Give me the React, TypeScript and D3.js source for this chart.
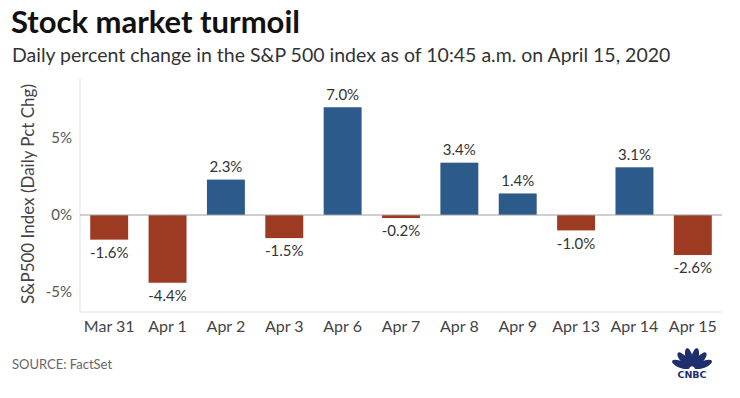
import React from "react";
import * as d3 from "d3";

const categories = ["Mar 31", "Apr 1", "Apr 2", "Apr 3", "Apr 6", "Apr 7", "Apr 8", "Apr 9", "Apr 13", "Apr 14", "Apr 15"];
const values = [-1.6, -4.4, 2.3, -1.5, 7.0, -0.2, 3.4, 1.4, -1.0, 3.1, -2.6];
const yTicks = [-5, 0, 5];

const W = 740, H = 398;
const left = 80, right = 722, top = 78, bottom = 312;
const FONT = "Lato, 'Open Sans', sans-serif";

export default function App() {
  const x = d3.scaleBand<string>().domain(categories).range([left, right]).paddingInner(0.35).paddingOuter(0.175);
  const y = d3.scaleLinear().domain([-6.3, 8.9]).range([bottom, top]);
  const blue = "#2c5a8a";
  const red = "#9c3b22";
  const feathers = [-68, -41, -14, 14, 41, 68];
  return (
    <div style={{ position: "absolute", left: 0, top: 0, width: W, height: H, background: "#fff" }}>
      <svg width={W} height={H} style={{ display: "block", fontFamily: FONT }}>
        <rect width={W} height={H} fill="#fff" />
        <text x={11} y={33} fontSize={31} fontWeight={700} fill="#111">Stock market turmoil</text>
        <text x={12} y={62} fontSize={19.5} fill="#333">Daily percent change in the S&amp;P 500 index as of 10:45 a.m. on April 15, 2020</text>

        {/* axes */}
        <line x1={left} x2={left} y1={top} y2={bottom} stroke="#e3e3e3" />
        <line x1={left} x2={right} y1={bottom} y2={bottom} stroke="#e3e3e3" />
        {yTicks.map(t => (
          <text key={t} x={72} y={y(t)} dy="0.35em" textAnchor="end" fontSize={15} fill="#555">{t}%</text>
        ))}
        <text transform={`translate(28,${(top + bottom) / 2 - 1}) rotate(-90)`} dy="0.35em" textAnchor="middle" fontSize={17} fill="#444">S&amp;P500 Index (Daily Pct Chg)</text>

        {values.map((v, i) => {
          const c = categories[i];
          const bx = x(c)!;
          const y0 = y(0), y1 = y(v);
          return (
            <g key={c}>
              <rect x={bx} width={x.bandwidth()} y={Math.min(y0, y1)} height={Math.abs(y1 - y0)} fill={v >= 0 ? blue : red} />
              <text x={bx + x.bandwidth() / 2} y={v >= 0 ? y1 - 13 : y1 + 13} dy="0.35em" textAnchor="middle" fontSize={15} fill="#333">
                {v.toFixed(1)}%
              </text>
              <text x={bx + x.bandwidth() / 2} y={326} dy="0.35em" textAnchor="middle" fontSize={16} fill="#444">{c}</text>
            </g>
          );
        })}
        <line x1={left} x2={right} y1={y(0)} y2={y(0)} stroke="#a0a0a0" strokeWidth={1.2} />

        <text x={12} y={369} fontSize={13} fill="#666">SOURCE: FactSet</text>

        {/* CNBC logo */}
        <g transform="translate(692,369)">
          {feathers.map(a => (
            <ellipse key={a} cx={0} cy={-12} rx={3.6} ry={9.5} fill="#1f2f6e" transform={`rotate(${a})`} />
          ))}
          <rect x={-22} y={0} width={44} height={2} fill="#fff" />
          <text x={0} y={9} textAnchor="middle" fontSize={9.5} fontWeight={900} fill="#1f2f6e" fontFamily="'DejaVu Sans', sans-serif">CNBC</text>
        </g>
      </svg>
    </div>
  );
}
